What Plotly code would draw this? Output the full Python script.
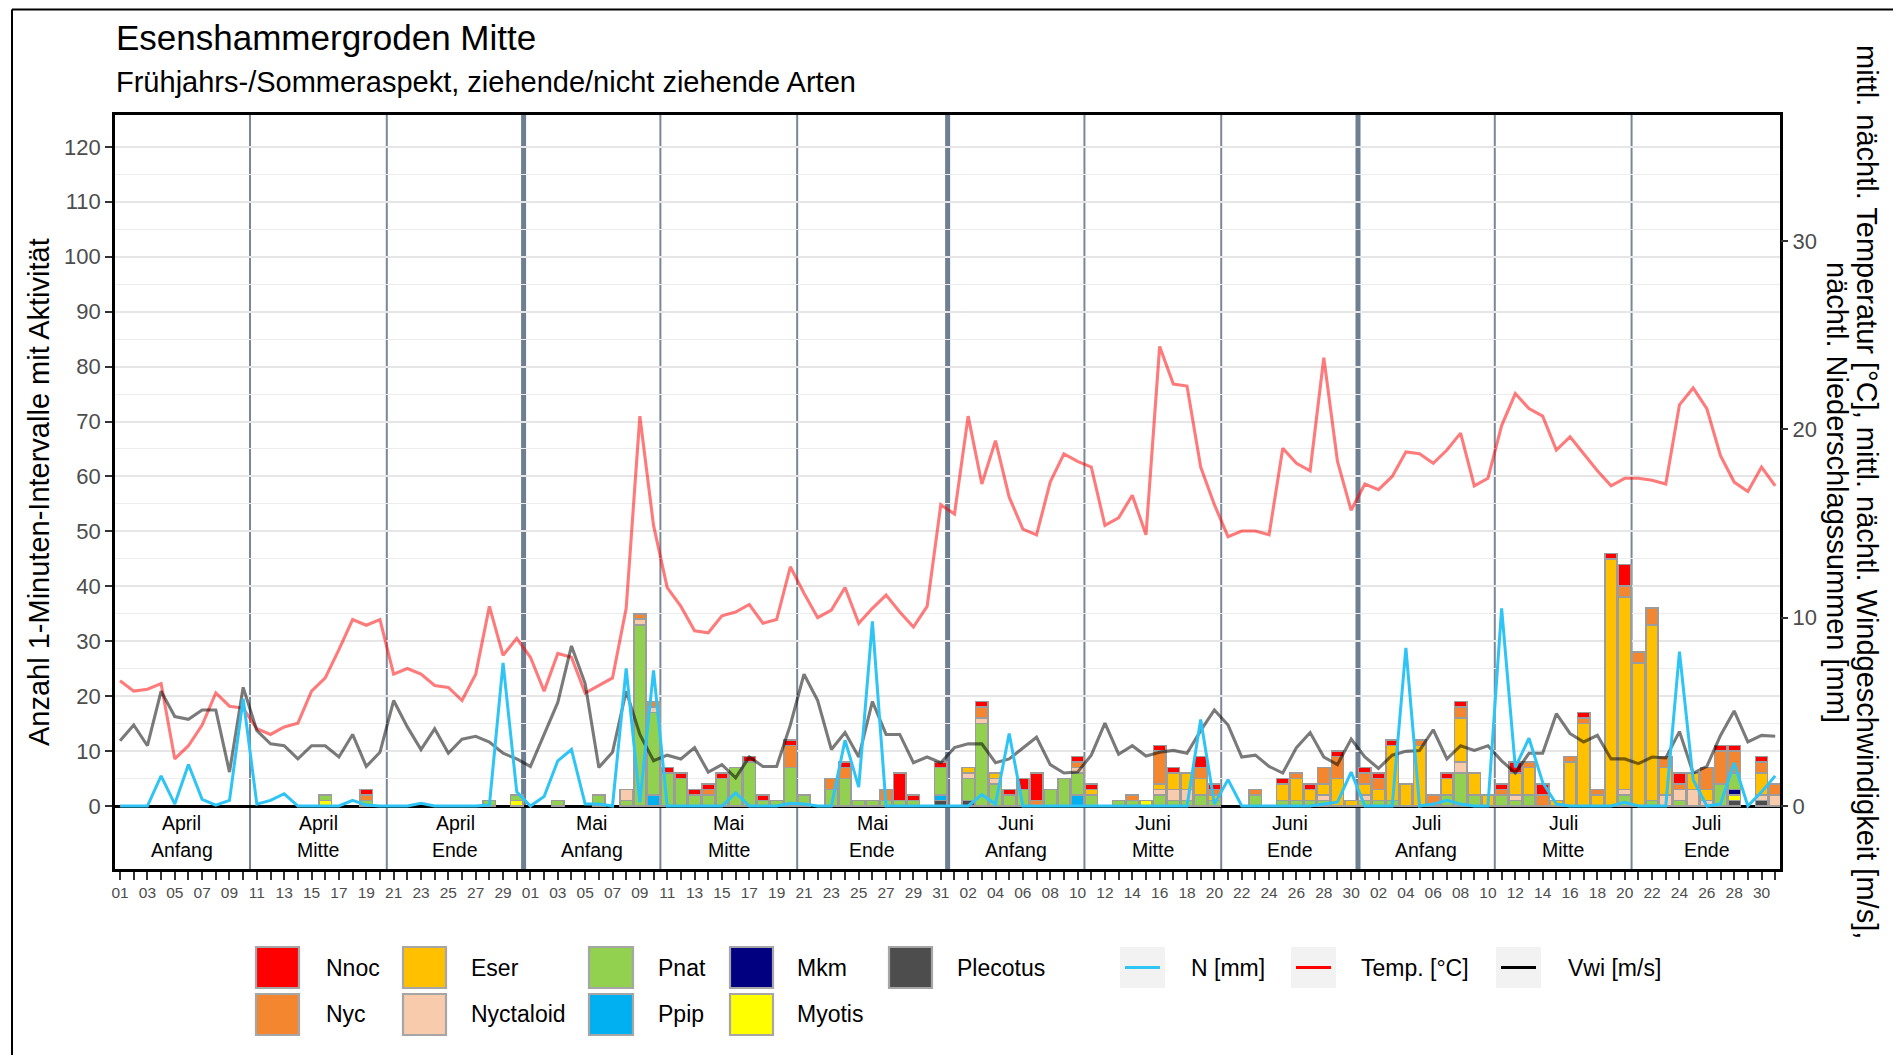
import plotly.graph_objects as go
import pandas as pd

# ---------------- data ----------------
DATES = pd.date_range("2021-04-01", "2021-07-31", freq="D")
DAY_LABELS = [f"{d.day:02d}" for d in DATES]

# species counts per night (Apr 1 .. Jul 31), one row per month
NNOC = ([0]*18 + [1] + [0]*11 +
        [0,0,0,0,0,0,0,0,0,0, 1,1,1,1,1,0,1,1,0,1, 0,0,0,1,0,0,0,5,1,0,1] +
        [0,0,1,0,1,2,5,0,0,1, 1,0,0,0,0,1,1,0,2,1, 0,0,0,0,1,0,1,0,1,0] +
        [1,1,1,0,0,0,1,1,0,0, 1,2,0,2,0,0,1,0,1,4, 0,0,0,2,0,0,1,1,0,1,0])
NYC = ([0]*18 + [1] + [0]*11 +
       [0,0,0,0,0,0,0,0,1,1, 0,0,0,1,0,0,0,0,0,4, 0,0,2,2,0,0,2,0,0,0,0] +
       [0,0,2,0,0,0,1,0,0,1, 0,0,0,1,0,6,0,0,2,1, 0,0,1,0,0,1,0,3,4,0] +
       [2,2,0,0,1,2,0,2,0,0, 1,0,1,2,0,1,1,1,0,2, 2,3,2,1,0,4,6,4,0,2,2])
ESER = ([0]*30 +
        [0]*31 +
        [0,1,0,1,0,0,0,0,0,0, 1,0,0,0,0,1,3,3,3,1, 0,0,0,0,3,4,2,2,5,1] +
        [2,2,10,4,11,0,3,8,4,2, 0,4,5,0,1,8,15,2,45,35, 26,32,5,0,3,2,0,0,0,4,0])
NYCTALOID = ([0]*30 +
             [0,0,0,0,0,0,0,2,1,1] + [0]*21 +
             [0,1,1,1,0,0,0,0,0,1, 0,0,0,0,0,1,2,2,0,0, 0,0,0,0,0,0,0,1,0,0] +
             [1,0,0,0,0,0,0,2,0,0, 0,1,0,0,0,0,0,0,0,1, 0,0,2,2,3,1,0,0,0,1,2])
PNAT = ([0,0,0,0,0,0,0,0,0,0, 0,0,0,0,0,1,0,0,1,0, 0,0,0,0,0,0,0,1,0,1] +
        [0,0,1,0,0,2,0,1,33,15, 6,5,2,2,5,7,8,1,1,7, 2,0,3,5,1,1,1,1,1,0,5] +
        [0,4,15,4,2,3,0,3,5,4, 2,0,1,1,0,2,1,1,2,1, 0,0,2,0,1,1,1,1,0,0] +
        [1,1,1,0,0,0,2,6,2,0, 2,1,2,0,0,0,0,0,0,2, 0,1,0,1,0,0,4,3,0,0,0])
PPIP = ([0]*30 +
        [0,0,0,0,0,0,0,0,0,2] + [0]*20 + [1] +
        [0,0,0,0,0,0,0,0,0,2] + [0]*20 +
        [0]*31)
MKM = [0]*30 + [0]*31 + [0]*30 + [0]*27 + [1] + [0]*3
MYOTIS = ([0]*15 + [1] + [0]*13 + [1] +
          [0]*31 +
          [0]*14 + [1] + [0]*15 +
          [0]*27 + [1] + [0]*3)
PLECOTUS = ([0]*30 +
            [0]*30 + [1] +
            [0,1] + [0]*28 +
            [0]*27 + [1,0,1,0])

# nightly weather (secondary axis)
TEMP = ([6.65,6.1,6.2,6.5,2.5,3.2,4.3,6.0,5.3,5.2, 4.1,3.8,4.2,4.4,6.1,6.8,8.3,9.9,9.6,9.9,
         7.0,7.3,7.0,6.4,6.3,5.6,7.0,10.6,8.0,8.9] +
        [7.9,6.1,8.1,7.9,6.0,6.4,6.8,10.5,20.7,14.9, 11.6,10.6,9.3,9.2,10.1,10.3,10.7,9.7,9.9,12.7,
         11.3,10.0,10.4,11.6,9.7,10.5,11.2,10.3,9.5,10.6,16.0] +
        [15.5,20.7,17.1,19.4,16.4,14.7,14.4,17.2,18.7,18.3, 18.0,14.9,15.3,16.5,14.4,24.4,22.4,22.3,18.0,16.0,
         14.3,14.6,14.6,14.4,19.0,18.2,17.8,23.8,18.3,15.7] +
        [17.1,16.8,17.5,18.8,18.7,18.2,18.9,19.8,17.0,17.4, 20.2,21.9,21.1,20.7,18.9,19.6,18.7,17.8,17.0,17.4,
         17.4,17.3,17.1,21.3,22.2,21.1,18.6,17.2,16.7,18.0,17.0])
VWI = ([3.46,4.3,3.2,6.1,4.75,4.6,5.1,5.1,1.8,6.3, 4.0,3.3,3.2,2.5,3.2,3.2,2.6,3.8,2.1,2.85,
        5.6,4.2,3.0,4.1,2.8,3.55,3.7,3.4,2.8,2.5] +
       [2.1,3.8,5.5,8.5,6.5,2.05,2.85,6.1,3.8,2.4, 2.7,2.5,3.1,1.8,2.2,1.5,2.6,2.1,2.1,4.3,
        7.0,5.6,3.0,3.9,2.6,5.55,3.8,3.8,2.3,2.6,2.3] +
       [3.1,3.3,3.3,2.3,2.5,3.1,3.65,2.2,1.75,1.8, 2.7,4.4,2.75,3.2,2.65,2.85,2.95,2.8,4.0,5.1,
        4.3,2.6,2.7,2.1,1.75,3.1,3.9,2.6,2.2,3.55] +
       [2.6,2.0,2.7,2.9,2.95,4.05,2.5,3.2,2.95,3.2, 2.4,1.75,2.8,2.8,4.9,3.85,3.4,3.75,2.5,2.5,
        2.25,2.6,2.55,3.95,1.75,2.1,3.75,5.05,3.4,3.75,3.7])
NIED = ([0,0,0,1.6,0.1,2.2,0.35,0.05,0.3,5.7, 0.1,0.3,0.65,0,0,0,0,0.3,0.05,0,
         0,0,0.15,0,0,0,0,0.05,7.6,0.75] +
        [0,0.5,2.4,3.0,0.1,0.1,0,7.3,0.2,7.2, 0,0,0,0,0,0.7,0,0,0,0.15,
         0.1,0,0,3.5,1.0,9.8,0,0,0,0,0] +
        [0,0,0.6,0.1,3.85,0,0,0,0,0, 0,0,0,0,0,0,0,0,4.6,0.1,
         1.4,0,0,0,0,0,0,0.1,0.2,1.8] +
        [0,0,0,8.4,0,0.1,0.3,0.1,0,0, 10.5,2.05,3.6,1.25,0.1,0,0,0,0,0.2,
         0,0,0,8.2,1.4,0,0.1,2.3,0,0.75,1.6])

# period labels (month, part, first/last day index)
PERIODS = [("April", "Anfang", 0, 9), ("April", "Mitte", 10, 19), ("April", "Ende", 20, 29),
           ("Mai", "Anfang", 30, 39), ("Mai", "Mitte", 40, 49), ("Mai", "Ende", 50, 60),
           ("Juni", "Anfang", 61, 70), ("Juni", "Mitte", 71, 80), ("Juni", "Ende", 81, 90),
           ("Juli", "Anfang", 91, 100), ("Juli", "Mitte", 101, 110), ("Juli", "Ende", 111, 121)]
MONTH_STARTS = [30, 61, 91]

# stacking order bottom -> top
SPECIES = [("Plecotus", PLECOTUS, "#4D4D4D"), ("Myotis", MYOTIS, "#FFFF00"),
           ("Mkm", MKM, "#000080"), ("Ppip", PPIP, "#00B0F0"),
           ("Pnat", PNAT, "#92D050"), ("Nyctaloid", NYCTALOID, "#F8CBAD"),
           ("Eser", ESER, "#FFC000"), ("Nyc", NYC, "#F4862F"), ("Nnoc", NNOC, "#FF0000")]

# ---------------- layout geometry (page pixels) ----------------
PAGE_W, PAGE_H = 1901, 1063
OFF = 8                      # default body margin of the html page
W, H = PAGE_W - 2 * OFF, PAGE_H - 2 * OFF
L, R, T, B = 115, 1780, 115, 869   # panel edges in page pixels
K = 120 / 35  # left units per right unit
YMIN, YMAX = -11.47, 125.8
XMIN, XMAX = -0.37, 121.35
FONT = "Liberation Sans, Arial, sans-serif"
GREY_TXT = "#4D4D4D"


def px(x):
    return (x - L) / (R - L)


def py(y):
    return (B - y) / (B - T)


idx = list(range(len(DATES)))
fig = go.Figure()

for name, vals, col in SPECIES:
    fig.add_trace(go.Bar(
        x=idx, y=[v if v else None for v in vals], name=name, width=0.9,
        marker=dict(color=col, line=dict(color="#9C9C9C", width=1.6)),
        showlegend=False))

fig.add_trace(go.Scatter(x=idx, y=TEMP, yaxis="y2", mode="lines", name="Temp. [°C]",
                         line=dict(color="rgba(255,0,0,0.52)", width=3.1), showlegend=False))
fig.add_trace(go.Scatter(x=idx, y=VWI, yaxis="y2", mode="lines", name="Vwi [m/s]",
                         line=dict(color="rgba(0,0,0,0.52)", width=3.1), showlegend=False))
fig.add_trace(go.Scatter(x=idx, y=NIED, yaxis="y2", mode="lines", name="N [mm]",
                         line=dict(color="#2EC4F5", width=3.0), showlegend=False))

shapes = []
annotations = []

# period separator lines
for p in PERIODS[1:]:
    xb = p[2] - 0.5
    thick = p[2] in MONTH_STARTS
    shapes.append(dict(type="line", xref="x", yref="paper", x0=xb, x1=xb, y0=0, y1=1,
                       line=dict(color="#6E7F92" if thick else "#7A8797", width=5 if thick else 2),
                       layer="below"))

# period labels
for mon, part, a, b in PERIODS:
    c = (a + b) / 2
    annotations.append(dict(x=c, y=-3.1, xref="x", yref="y", text=mon, showarrow=False,
                            font=dict(size=19.5, color="black", family=FONT)))
    annotations.append(dict(x=c, y=-8.0, xref="x", yref="y", text=part, showarrow=False,
                            font=dict(size=19.5, color="black", family=FONT)))

# titles
annotations.append(dict(x=px(114), y=py(37), xref="paper", yref="paper", xanchor="left",
                        yanchor="middle", text="Esenshammergroden Mitte", showarrow=False,
                        font=dict(size=35, color="black", family=FONT)))
annotations.append(dict(x=px(114), y=py(82), xref="paper", yref="paper", xanchor="left",
                        yanchor="middle",
                        text="Frühjahrs-/Sommeraspekt, ziehende/nicht ziehende Arten",
                        showarrow=False, font=dict(size=29, color="black", family=FONT)))
annotations.append(dict(x=px(39), y=0.5, xref="paper", yref="paper", textangle=-90,
                        text="Anzahl 1-Minuten-Intervalle mit Aktivität", showarrow=False,
                        xanchor="center", yanchor="middle",
                        font=dict(size=29, color="black", family=FONT)))
annotations.append(dict(x=px(1867), y=0.5, xref="paper", yref="paper", textangle=90,
                        text="mittl. nächtl. Temperatur [°C], mittl. nächtl. Windgeschwindigkeit [m/s],",
                        showarrow=False, xanchor="center", yanchor="middle",
                        font=dict(size=29, color="black", family=FONT)))
annotations.append(dict(x=px(1837), y=0.5, xref="paper", yref="paper", textangle=90,
                        text="nächtl. Niederschlagssummen [mm]",
                        showarrow=False, xanchor="center", yanchor="middle",
                        font=dict(size=29, color="black", family=FONT)))

# legend (manual, ggplot style)
ROW1 = (947, 988)
ROW2 = (994, 1035)
FILL_COLS = [(256, 299, 324, [("Nnoc", "#FF0000"), ("Nyc", "#F4862F")]),
             (403, 446, 469, [("Eser", "#FFC000"), ("Nyctaloid", "#F8CBAD")]),
             (589, 633, 656, [("Pnat", "#92D050"), ("Ppip", "#00B0F0")]),
             (730, 773, 795, [("Mkm", "#000080"), ("Myotis", "#FFFF00")]),
             (889, 932, 955, [("Plecotus", "#4D4D4D")])]
for x0, x1, xt, items in FILL_COLS:
    for (lab, col), (y0, y1) in zip(items, [ROW1, ROW2]):
        shapes.append(dict(type="rect", xref="paper", yref="paper", x0=px(x0), x1=px(x1),
                           y0=py(y1), y1=py(y0), fillcolor=col,
                           line=dict(color="#A6A6A6", width=2.2)))
        annotations.append(dict(x=px(xt), y=py((y0 + y1) / 2), xref="paper", yref="paper",
                                xanchor="left", yanchor="middle", text=lab, showarrow=False,
                                font=dict(size=23, color="black", family=FONT)))
LINE_KEYS = [(1120, 1165, 1189, "N [mm]", "#2EC4F5"),
             (1291, 1336, 1359, "Temp. [°C]", "#FF0000"),
             (1496, 1541, 1566, "Vwi [m/s]", "#000000")]
for x0, x1, xt, lab, col in LINE_KEYS:
    shapes.append(dict(type="rect", xref="paper", yref="paper", x0=px(x0), x1=px(x1),
                       y0=py(ROW1[1]), y1=py(ROW1[0]), fillcolor="#F2F2F2",
                       line=dict(width=0)))
    ym = py((ROW1[0] + ROW1[1]) / 2)
    shapes.append(dict(type="line", xref="paper", yref="paper", x0=px(x0 + 5), x1=px(x1 - 5),
                       y0=ym, y1=ym, line=dict(color=col, width=3)))
    annotations.append(dict(x=px(xt), y=ym, xref="paper", yref="paper", xanchor="left",
                            yanchor="middle", text=lab, showarrow=False,
                            font=dict(size=23, color="black", family=FONT)))

# outer plot-background border (left and top)
shapes.append(dict(type="line", xref="paper", yref="paper", x0=px(12), x1=px(12),
                   y0=py(PAGE_H + 5), y1=py(9.5), line=dict(color="black", width=2)))
shapes.append(dict(type="line", xref="paper", yref="paper", x0=px(12), x1=px(PAGE_W + 5),
                   y0=py(9.5), y1=py(9.5), line=dict(color="black", width=2)))

fig.update_layout(
    width=W, height=H,
    margin=dict(l=L - OFF, r=W - (R - OFF), t=T - OFF, b=H - (B - OFF), pad=0),
    paper_bgcolor="white", plot_bgcolor="white",
    barmode="stack",
    font=dict(family=FONT, color="black"),
    showlegend=False,
    xaxis=dict(range=[XMIN, XMAX], tickmode="array", tickvals=idx, ticktext=[
        lab if i % 2 == 0 else "" for i, lab in enumerate(DAY_LABELS)],
        tickangle=0, ticks="outside", ticklen=8, tickwidth=1.6, tickcolor="#333333",
        tickfont=dict(size=15.5, color=GREY_TXT, family=FONT),
        showgrid=False, zeroline=False, showline=True, mirror=True,
        linecolor="black", linewidth=2.6),
    yaxis=dict(range=[YMIN, YMAX], tickmode="array", tickvals=list(range(0, 121, 10)),
               ticks="outside", ticklen=7, tickwidth=1.6, tickcolor="#333333",
               tickfont=dict(size=22, color=GREY_TXT, family=FONT),
               showgrid=True, gridcolor="#E6E6E6", gridwidth=1.6,
               minor=dict(tickvals=list(range(5, 120, 10)), showgrid=True,
                          gridcolor="#EDEDED", gridwidth=1.2, ticks=""),
               zeroline=True, zerolinecolor="black", zerolinewidth=3.2,
               showline=True, mirror=True, linecolor="black", linewidth=2.6),
    yaxis2=dict(range=[YMIN / K, YMAX / K], overlaying="y", side="right",
                tickmode="array", tickvals=[0, 10, 20, 30],
                ticks="outside", ticklen=7, tickwidth=1.6, tickcolor="#333333",
                tickfont=dict(size=22, color=GREY_TXT, family=FONT),
                showgrid=False, zeroline=False, showline=False),
    shapes=shapes,
    annotations=annotations,
)

fig.write_html("out.html")
